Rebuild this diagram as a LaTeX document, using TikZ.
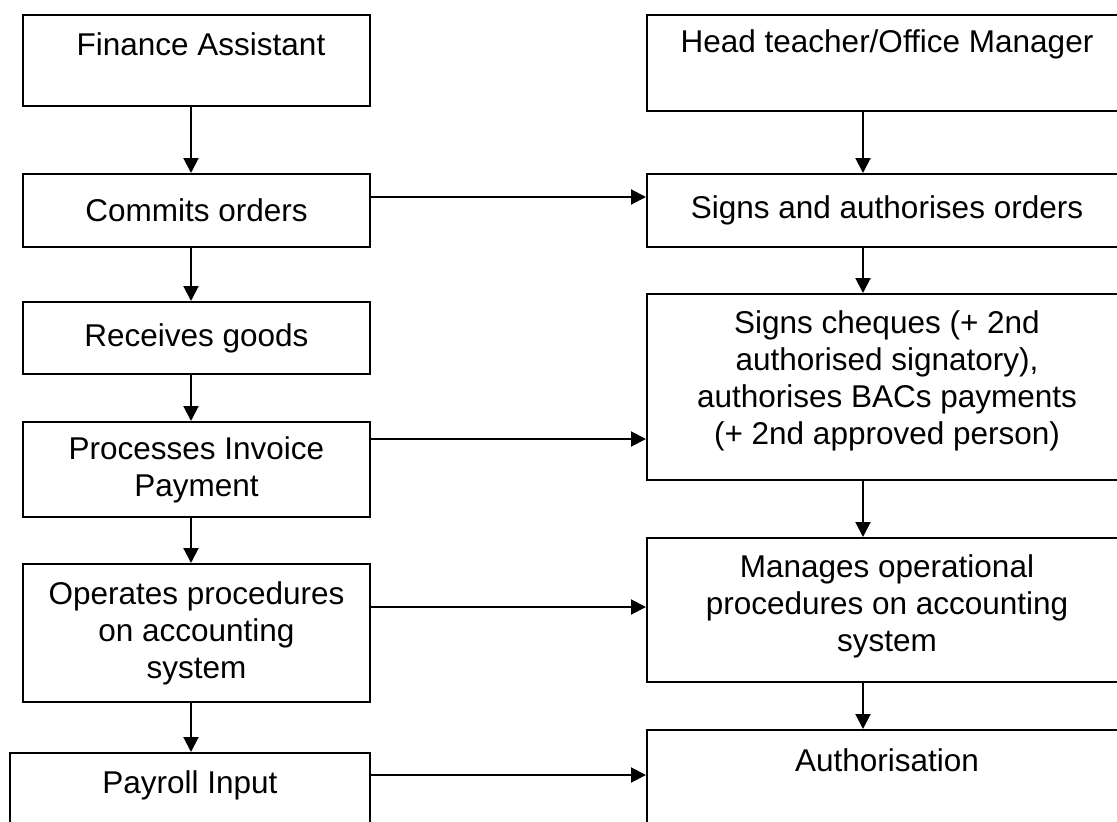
\documentclass[tikz,border=0pt]{standalone}
\usepackage{fontspec}
\setmainfont{Liberation Sans}
\usetikzlibrary{arrows.meta}
\begin{document}
\begin{tikzpicture}[x=1pt,y=-1pt,
  every node/.style={font=\fontsize{31.5}{37}\selectfont},
  box/.style={draw=black, line width=2pt, rectangle, inner sep=0pt, align=center},
  lbox/.style={box, minimum width=347pt},
  rbox/.style={box, minimum width=480pt},
  txt/.style={inner sep=0pt, align=center},
  arr/.style={line width=2pt, -{Triangle[length=15pt,width=15pt]}}
]
\useasboundingbox (0,0) rectangle (1117,822);
\clip (0,0) rectangle (1117,822);
\fill[white] (0,0) rectangle (1117,822);

% left column: finance assistant
\node[lbox, minimum height=91pt]  (fa) at (196.5,60.5) {};
\node[txt] (fat) at (201,44) {Finance Assistant};
\node[lbox, minimum height=73pt]  (co) at (196.5,210.5) {Commits orders};
\node[lbox, minimum height=72pt]  (rg) at (196.5,338) {Receives goods};
\node[lbox, minimum height=95pt]  (pi) at (196.5,469.5) {Processes Invoice\\Payment};
\node[lbox, minimum height=138pt] (op) at (196.5,633) {Operates procedures\\on accounting\\system};
\node[box, minimum width=360pt, minimum height=140pt] (py) at (190,823) {};
\node[txt] (pyt) at (190,785) {Payroll Input};

% right column: head teacher / office manager
\node[rbox, minimum height=96pt]  (ht) at (887,63) {};
\node[txt] (htt) at (887,44) {Head teacher/Office Manager};
\node[rbox, minimum height=73pt]  (sa) at (887,210.5) {Signs and authorises orders};
\node[rbox, minimum height=186pt] (sc) at (887,387) {};
\node[txt] (sct) at (887,381) {Signs cheques (+ 2nd\\authorised signatory),\\authorises BACs payments\\(+ 2nd approved person)};
\node[rbox, minimum height=144pt] (mo) at (887,610) {};
\node[txt] (mot) at (887,606) {Manages operational\\procedures on accounting\\system};
\node[rbox, minimum height=180pt] (au) at (887,820) {};
\node[txt] (aut) at (887,760) {Authorisation};

% vertical flow, left
\foreach \a/\b in {fa/co, co/rg, rg/pi, pi/op, op/py}
  \draw[arr] ([xshift=-5.5pt]\a.south) -- ([xshift=-5.5pt]\a.south |- \b.north);

% vertical flow, right
\foreach \a/\b in {ht/sa, sa/sc, sc/mo, mo/au}
  \draw[arr] ([xshift=-24pt]\a.south) -- ([xshift=-24pt]\a.south |- \b.north);

% links across
\draw[arr] (co.east |- 0,197) -- (sa.west |- 0,197);
\draw[arr] (pi.east |- 0,439) -- (sc.west |- 0,439);
\draw[arr] (op.east |- 0,607) -- (mo.west |- 0,607);
\draw[arr] (py.east |- 0,775) -- (au.west |- 0,775);
\end{tikzpicture}
\end{document}
